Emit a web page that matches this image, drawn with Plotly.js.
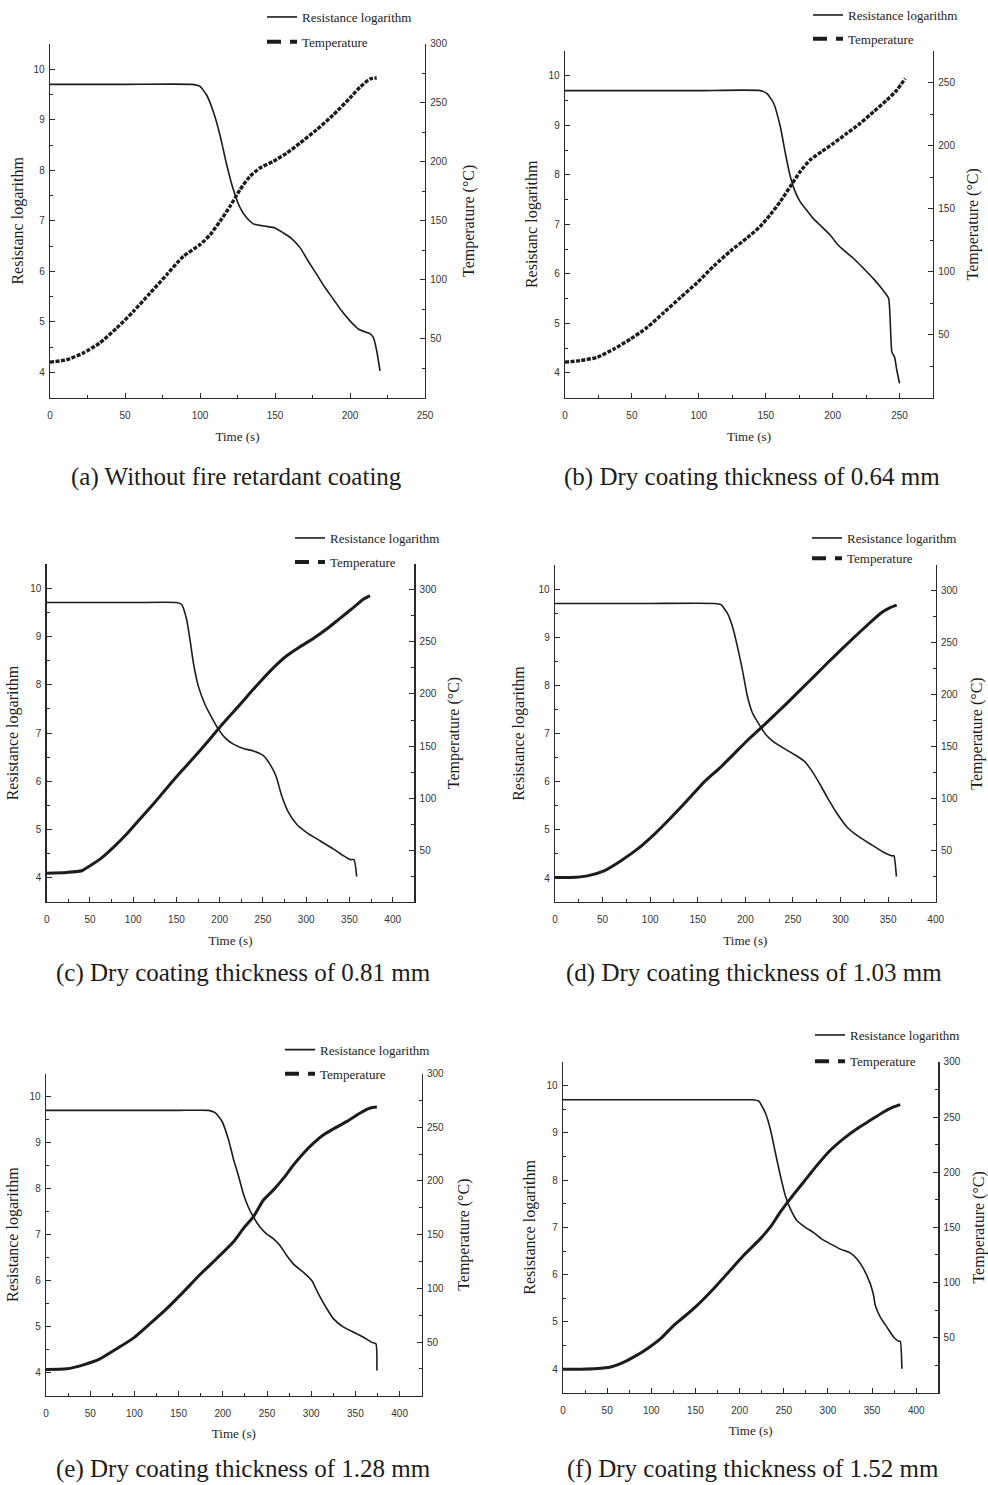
<!DOCTYPE html>
<html><head><meta charset="utf-8">
<script src="https://cdn.plot.ly/plotly-3.0.1.min.js"></script>
<style>html,body{margin:0;padding:0;background:#fff;} #chart{width:988px;height:1485px;}</style>
</head><body><div id="chart"></div>
<script>
// ---------------- DATA ----------------
// (a) Without fire retardant coating
const timeResA = [0, 50, 95, 100, 104.4, 108.9, 113.3, 117.8, 122.2, 126.7, 131.1, 135.6, 140, 144.4, 150, 155.6, 161.1, 166.7, 172.2, 177.8, 183.3, 188.9, 194.4, 200, 205.6, 211.1, 213.3, 215.6, 217.8, 220];
const resA = [9.7, 9.7, 9.7, 9.66, 9.49, 9.16, 8.70, 8.11, 7.62, 7.26, 7.06, 6.94, 6.91, 6.89, 6.86, 6.76, 6.65, 6.47, 6.20, 5.94, 5.68, 5.45, 5.22, 5.02, 4.86, 4.79, 4.77, 4.69, 4.43, 4.03];
const timeTempA = [0, 11, 22, 33, 44.4, 55.6, 66.7, 77.8, 88.9, 100, 106.7, 113.3, 120, 126.7, 133.3, 140, 148.9, 157.8, 166.7, 177.8, 188.9, 200, 206.7, 213.3, 217.8];
const tempA = [30.2, 32.2, 37.8, 46.3, 59, 73.2, 88.7, 104.3, 119.9, 129.8, 138.2, 149.5, 162.3, 176.4, 187.7, 194.8, 200.5, 207.5, 216, 227.3, 240, 254.2, 263.5, 270.3, 271.2];

// (b) 0.64 mm
const timeResB = [0, 50, 100, 146, 151, 156, 161, 164.7, 168.4, 172.1, 175.9, 180.8, 185.8, 192, 198.3, 203.2, 208.2, 215.7, 223.1, 230.6, 236.8, 241.8, 243, 244.3, 246.3, 248, 250];
const resB = [9.7, 9.7, 9.7, 9.70, 9.64, 9.44, 8.96, 8.43, 7.96, 7.65, 7.45, 7.28, 7.11, 6.95, 6.78, 6.61, 6.48, 6.31, 6.11, 5.90, 5.70, 5.51, 5.06, 4.42, 4.32, 4.05, 3.79];
const timeTempB = [0, 11.7, 24.1, 36.6, 49, 61.4, 73.9, 86.3, 98.8, 111.2, 123.6, 136.1, 146, 153.5, 161, 168.4, 175.9, 183.3, 192, 200.7, 210.7, 220.6, 230.6, 240.5, 248, 254.2];
const tempB = [28.2, 29.5, 32.1, 38.7, 46.6, 55.8, 67.6, 79.5, 91.3, 104.5, 116.3, 126.8, 136, 145.3, 155.8, 167.6, 179.5, 188.7, 195.3, 201.8, 209.7, 217.6, 226.8, 236.1, 244, 253.2];

// (c) 0.81 mm
const timeResC = [0, 50, 100, 150.3, 156, 161.8, 165.7, 169.6, 175.3, 183, 190.8, 198.5, 206.2, 215.8, 227.4, 238.9, 250.5, 258.2, 265.1, 271.7, 279.4, 289, 300.6, 316, 331.4, 343, 350.7, 355.3, 358.4];
const resC = [9.7, 9.7, 9.7, 9.70, 9.66, 9.35, 8.93, 8.45, 7.97, 7.59, 7.32, 7.08, 6.90, 6.77, 6.68, 6.63, 6.53, 6.35, 6.11, 5.70, 5.36, 5.11, 4.94, 4.77, 4.60, 4.46, 4.38, 4.38, 4.03];
const timeTempC = [0, 23.1, 40.5, 50.1, 61.7, 77.1, 92.5, 107.9, 123.3, 138.7, 154.1, 169.6, 185, 200.4, 215.8, 231.2, 246.6, 262, 277.5, 292.9, 308.3, 323.7, 339.1, 354.5, 366.1, 373.8];
const tempC = [27.8, 28.5, 30.1, 34.9, 41.3, 52.6, 65.4, 79.9, 94.3, 109.4, 124.2, 138.4, 153.1, 168.3, 182.7, 197.2, 211.6, 225.1, 236.7, 245.4, 253.4, 262.4, 272.7, 283, 291, 294.5];

// (d) 1.03 mm
const timeResD = [0, 50, 100, 167, 174.1, 181.1, 186.3, 191.6, 196.8, 202.1, 207.4, 214.4, 221.4, 230.1, 240.6, 251.1, 261.6, 268.6, 277.4, 286.2, 296.7, 307.2, 317.7, 331.7, 345.7, 354.5, 356.2, 358.7];
const resD = [9.7, 9.7, 9.7, 9.70, 9.68, 9.50, 9.23, 8.81, 8.33, 7.78, 7.43, 7.19, 6.98, 6.82, 6.69, 6.57, 6.43, 6.26, 5.98, 5.67, 5.33, 5.05, 4.88, 4.70, 4.53, 4.46, 4.46, 4.03];
const timeTempD = [0, 16.5, 34, 51.5, 69, 86.5, 104, 121.5, 139.1, 156.6, 174.1, 188.1, 202.1, 216.1, 230.1, 244.1, 258.1, 272.2, 286.2, 300.2, 314.2, 328.2, 342.2, 352.7, 359];
const tempD = [23.7, 23.7, 25.3, 30.1, 39.7, 51, 65.1, 81.1, 98.1, 115.7, 130.1, 142.9, 155.8, 167.6, 179.8, 192, 204.8, 217.6, 230.4, 242.9, 255.1, 267, 278.5, 284, 286.2];

// (e) 1.28 mm
const timeResE = [0, 50, 100, 150, 183.8, 191.3, 198.9, 206.4, 212.1, 217.7, 223.4, 229.1, 234.7, 242.3, 249.8, 257.4, 264.9, 272.5, 280, 291.3, 300.8, 308.3, 317.7, 325.3, 336.6, 348, 359.2, 368.7, 373.2, 374.3];
const resE = [9.7, 9.7, 9.7, 9.7, 9.70, 9.65, 9.47, 9.07, 8.64, 8.28, 7.88, 7.59, 7.38, 7.16, 7.01, 6.91, 6.76, 6.54, 6.36, 6.18, 6.00, 5.71, 5.39, 5.17, 4.99, 4.88, 4.77, 4.66, 4.63, 4.05];
const timeTempE = [0, 23.4, 42.3, 61.1, 80, 98.9, 117.7, 136.6, 155.5, 174.3, 193.2, 212.1, 223.4, 234.7, 246, 257.4, 268.7, 280, 291.3, 302.6, 314, 325.3, 340.4, 355.5, 366.8, 374.3];
const tempE = [24.5, 25.1, 28.8, 34.4, 43.8, 53.7, 67.1, 81.1, 96.7, 112.9, 127.8, 143.4, 155.9, 166.8, 182.3, 191.7, 202.6, 215, 225.9, 235.2, 243, 248.6, 255.5, 263.3, 267.9, 268.9];

// (f) 1.52 mm
const timeResF = [0, 50, 100, 150, 200, 214.1, 221.7, 229.2, 234.9, 240.5, 246.2, 251.8, 257.5, 265, 274.5, 283.9, 293.3, 302.7, 314, 325.3, 332.9, 340.4, 347.9, 351.7, 353.6, 359.3, 366.8, 374.4, 380, 381.9, 383.8];
const resF = [9.7, 9.7, 9.7, 9.7, 9.7, 9.70, 9.67, 9.42, 9.07, 8.58, 8.09, 7.67, 7.39, 7.14, 7.00, 6.89, 6.75, 6.65, 6.54, 6.46, 6.33, 6.12, 5.81, 5.56, 5.35, 5.10, 4.89, 4.68, 4.59, 4.59, 4.01];
const timeTempF = [0, 20, 38.8, 53.9, 65.2, 80.3, 95.4, 110.5, 125.5, 136.8, 151.9, 167, 185.9, 204.7, 223.6, 234.9, 246.2, 257.5, 272.6, 287.7, 302.7, 317.8, 332.9, 348, 363.1, 374.4, 381.9];
const tempF = [21.3, 21.3, 21.9, 23.4, 26.4, 32.5, 40, 49.1, 61.2, 68.7, 79.3, 91.4, 108, 124.7, 139.8, 150.4, 164, 176.1, 191.2, 206.3, 219.9, 230.5, 239.5, 247.1, 254.7, 259.2, 261.3];

// tick labels
const timeTicks250 = [0, 50, 100, 150, 200, 250];
const timeTicks400 = [0, 50, 100, 150, 200, 250, 300, 350, 400];
const resTicks = [4, 5, 6, 7, 8, 9, 10];
const tempTicks300 = [50, 100, 150, 200, 250, 300];
const tempTicks250 = [50, 100, 150, 200, 250];

// text
const seriesNames = ['Resistance logarithm', 'Temperature'];
const captions = [
  '(a) Without fire retardant coating',
  '(b) Dry coating thickness of 0.64 mm',
  '(c) Dry coating thickness of 0.81 mm',
  '(d) Dry coating thickness of 1.03 mm',
  '(e) Dry coating thickness of 1.28 mm',
  '(f) Dry coating thickness of 1.52 mm'
];

// ---------------- LAYOUT / DRAW ----------------
const W = 988, H = 1485;
const SERIF = '"Liberation Serif", "Times New Roman", serif';
const SANS = '"Liberation Sans", Arial, sans-serif';
const INK = '#1c1c1c';
const AX = '#2a2a2a';

const panels = [
  {tr: timeResA, r: resA, tt: timeTempA, t: tempA, box: [50, 43, 425, 397], xr: [0, 250], xt: timeTicks250,
   trg: [0, 300], ttk: tempTicks300, ylab: 'Resistanc logarithm', tlab: 'Temperature (°C)', dotted: true,
   leg: [262, 2, 5], cap: [236, 476], sx: 12, sl: 6, sr: 16},
  {tr: timeResB, r: resB, tt: timeTempB, t: tempB, box: [565, 50, 933, 397], xr: [0, 275], xt: timeTicks250,
   trg: [0, 275], ttk: tempTicks250, ylab: 'Resistanc logarithm', tlab: 'Temperature (°C)', dotted: true,
   leg: [808, -1, 4], cap: [752, 476], sx: 12, sl: 7, sr: 12},
  {tr: timeResC, r: resC, tt: timeTempC, t: tempC, box: [46.7, 563.3, 414.3, 901.7], xr: [0, 425], xt: timeTicks400,
   trg: [0, 325], ttk: tempTicks300, ylab: 'Resistance logarithm', tlab: 'Temperature (°C)', dotted: false,
   leg: [290, 523, 4.2], cap: [243, 973], sx: 11, sl: 7, sr: 12},
  {tr: timeResD, r: resD, tt: timeTempD, t: tempD, box: [555, 564.3, 935.7, 901.7], xr: [0, 400], xt: timeTicks400,
   trg: [0, 325], ttk: tempTicks300, ylab: 'Resistance logarithm', tlab: 'Temperature (°C)', dotted: false,
   leg: [807, 523, 0.3], cap: [754, 973], sx: 11, sl: 10, sr: 13},
  {tr: timeResE, r: resE, tt: timeTempE, t: tempE, box: [46, 1073.3, 421.7, 1395.7], xr: [0, 425], xt: timeTicks400,
   trg: [0, 300], ttk: tempTicks300, ylab: 'Resistance logarithm', tlab: 'Temperature (°C)', dotted: false,
   leg: [280, 1034.7, 4.3], cap: [243, 1469], sx: 10, sl: 7, sr: 14},
  {tr: timeResF, r: resF, tt: timeTempF, t: tempF, box: [563, 1061.7, 938.3, 1392.7], xr: [0, 425], xt: timeTicks400,
   trg: [0, 300], ttk: tempTicks300, ylab: 'Resistance logarithm', tlab: 'Temperature (°C)', dotted: false,
   leg: [810, 1020, 6.3], cap: [753, 1469], sx: 10, sl: 7, sr: 14}
];

const traces = [];
const layout = {
  width: W, height: H,
  margin: {l: 0, r: 0, t: 0, b: 0},
  paper_bgcolor: '#fff', plot_bgcolor: 'rgba(0,0,0,0)',
  showlegend: true,
  annotations: []
};

function axisCommon() {
  return {
    showline: true, linecolor: AX, linewidth: 1.3, mirror: false,
    showgrid: false, zeroline: false,
    ticks: 'inside', ticklen: 5, tickwidth: 1, tickcolor: AX,
    tickfont: {family: SANS, size: 10, color: '#333'},
    fixedrange: true
  };
}

panels.forEach((p, k) => {
  const xn = k + 1, yl = 2 * k + 1, yr = 2 * k + 2;
  const xId = 'x' + (xn === 1 ? '' : xn);
  const ylId = 'y' + (yl === 1 ? '' : yl);
  const yrId = 'y' + yr;
  const legId = 'legend' + (k === 0 ? '' : (k + 1));
  const [x0, y0, x1, y1] = p.box;

  layout['xaxis' + (xn === 1 ? '' : xn)] = Object.assign(axisCommon(), {
    domain: [x0 / W, x1 / W], anchor: ylId, range: p.xr,
    tickmode: 'array', tickvals: p.xt, ticklabelstandoff: 8,
    minor: {ticks: 'inside', ticklen: 3, tickwidth: 1, tickcolor: AX, dtick: 25, tick0: 0, showgrid: false},
    title: {text: 'Time (s)', font: {family: SERIF, size: 13, color: INK}, standoff: p.sx}
  });
  layout['yaxis' + (yl === 1 ? '' : yl)] = Object.assign(axisCommon(), {
    domain: [1 - y1 / H, 1 - y0 / H], anchor: xId, range: [3.5, 10.5],
    tickmode: 'array', tickvals: resTicks, ticklabelstandoff: 2,
    minor: {ticks: 'inside', ticklen: 3, tickwidth: 1, tickcolor: AX, dtick: 0.5, tick0: 0, showgrid: false},
    title: {text: p.ylab, font: {family: SERIF, size: 16, color: INK}, standoff: p.sl}
  });
  layout['yaxis' + yr] = Object.assign(axisCommon(), {
    overlaying: ylId, side: 'right', anchor: xId, range: p.trg,
    tickmode: 'array', tickvals: p.ttk, ticklabelstandoff: 2,
    minor: {ticks: 'inside', ticklen: 3, tickwidth: 1, tickcolor: AX, dtick: 25, tick0: 0, showgrid: false},
    title: {text: p.tlab, font: {family: SERIF, size: 16, color: INK}, standoff: p.sr}
  });

  layout[legId] = {
    x: p.leg[0] / W, y: 1 - p.leg[1] / H, xanchor: 'left', yanchor: 'top',
    bgcolor: 'rgba(0,0,0,0)', borderwidth: 0, tracegroupgap: p.leg[2],
    traceorder: 'grouped',
    font: {family: SERIF, size: 13, color: INK}
  };

  // resistance (solid)
  traces.push({
    type: 'scatter', mode: 'lines', x: p.tr, y: p.r, xaxis: xId, yaxis: ylId,
    name: seriesNames[0], legend: legId, legendgroup: 'r' + k, showlegend: true,
    line: {color: INK, width: 1.6, shape: 'spline', smoothing: 0.5},
    hoverinfo: 'skip'
  });
  // temperature (thick dashed)
  traces.push({
    type: 'scatter', mode: 'lines', x: p.tt, y: p.t, xaxis: xId, yaxis: yrId,
    name: seriesNames[1], legend: legId, legendgroup: 't' + k, showlegend: false,
    line: {color: INK, width: p.dotted ? 3.4 : 3, shape: 'spline', smoothing: 0.6, dash: p.dotted ? '4px,1.5px' : 'solid'},
    hoverinfo: 'skip'
  });
  // legend key for temperature
  traces.push({
    type: 'scatter', mode: 'lines', x: [null], y: [null], xaxis: xId, yaxis: yrId,
    name: seriesNames[1], legend: legId, legendgroup: 't' + k, showlegend: true,
    line: {color: INK, width: 4, dash: '14px,9px'},
    hoverinfo: 'skip'
  });

  layout.annotations.push({
    xref: 'paper', yref: 'paper', x: p.cap[0] / W, y: 1 - p.cap[1] / H,
    xanchor: 'center', yanchor: 'middle', showarrow: false,
    text: captions[k], font: {family: SERIF, size: 25, color: INK}
  });
});

Plotly.newPlot('chart', traces, layout, {staticPlot: true, displayModeBar: false});
</script>
</body></html>
